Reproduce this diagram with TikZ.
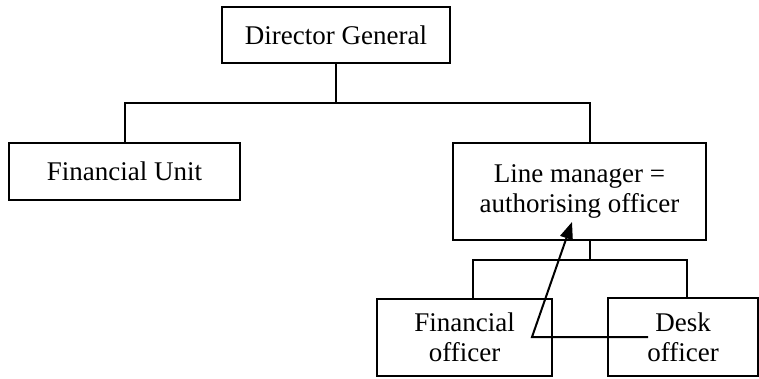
\documentclass[tikz,border=0pt]{standalone}
\usepackage{fontspec}
\setmainfont{Liberation Serif}
\usetikzlibrary{arrows.meta}
\begin{document}
\begin{tikzpicture}[x=1pt,y=-1pt,
  box/.style={draw,line width=2.4pt,rectangle,inner sep=0pt,align=center,
    font=\fontsize{27}{30}\selectfont},
  conn/.style={line width=2.4pt}]
\useasboundingbox[fill=white] (0,0) rectangle (759,378);
\node[box,minimum width=228pt,minimum height=56pt] (DG) at (336,35) {Director General};
\node[box,minimum width=231pt,minimum height=57pt] (FU) at (124.5,171.5) {Financial Unit};
\node[box,minimum width=253pt,minimum height=97pt] (LM) at (579.5,191.5) {Line manager =\\authorising officer};
\node[box,minimum width=175pt,minimum height=77pt] (FO) at (464.5,337.5) {Financial\\officer};
\node[box,minimum width=150pt,minimum height=78pt] (DO) at (683,337) {Desk\\officer};
\coordinate (b1L) at (125,103);
\coordinate (b1R) at (590,103);
\coordinate (b2L) at (473,260);
\coordinate (b2M) at (590,260);
\coordinate (b2R) at (687,260);
\coordinate (s) at (648,337);
\coordinate (k) at (532,337);
\coordinate (tip) at (572,222);
\draw[conn] (DG.south) -- (DG.south |- b1L);
\draw[conn] (FU.north -| b1L) -- (b1L) -- (b1R) -- (LM.north -| b1R);
\draw[conn] (LM.south -| b2M) -- (b2M);
\draw[conn] (FO.north -| b2L) -- (b2L) -- (b2R) -- (DO.north -| b2R);
\draw[line width=2pt,-{Triangle[length=17pt,width=13pt]}] (s) -- (k) -- (tip);
\end{tikzpicture}
\end{document}
